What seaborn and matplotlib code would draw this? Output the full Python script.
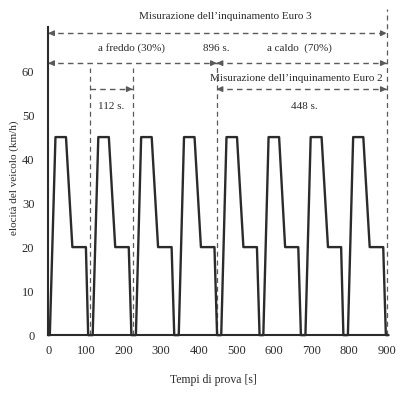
import matplotlib
matplotlib.use("Agg")
import matplotlib.pyplot as plt
import seaborn as sns
import pandas as pd

# ---- data ----
time_s = [0, 4, 19, 47, 64, 100, 106,
          118, 133, 161, 178, 214, 221,
          233, 247, 275, 292, 328, 335,
          347, 361, 389, 406, 442, 449,
          460, 474, 502, 519, 555, 562,
          572, 586, 614, 630, 665, 672,
          684, 698, 727, 744, 779, 785,
          797, 811, 838, 855, 891, 898, 905]
speed_kmh = [0, 0, 45, 45, 20, 20, 0,
             0, 45, 45, 20, 20, 0,
             0, 45, 45, 20, 20, 0,
             0, 45, 45, 20, 20, 0,
             0, 45, 45, 20, 20, 0,
             0, 45, 45, 20, 20, 0,
             0, 45, 45, 20, 20, 0,
             0, 45, 45, 20, 20, 0, 0]

x_ticks = [0, 100, 200, 300, 400, 500, 600, 700, 800, 900]
y_ticks = [0, 10, 20, 30, 40, 50, 60]

phase_marks = [112, 224, 448, 900]          # vertical dashed lines (s)
phase_tops = [60.7, 60.7, 62.0, 74.0]       # their upper ends (km/h scale)

labels = ["Misurazione dell\u2019inquinamento Euro 3", "a freddo (30%)", "896 s.",
          "a caldo  (70%)", "Misurazione dell\u2019inquinamento Euro 2", "112 s.", "448 s."]
label_x = [470, 220, 448, 669, 661, 167, 680]
label_y = [72.3, 65.2, 65.2, 65.2, 58.2, 52.0, 52.0]

x_title = "Tempi di prova [s]"
y_title = "elocit\u00e0 del veicolo (km/h)"

df = pd.DataFrame({"t": time_s, "v": speed_kmh})

# ---- styling ----
sns.set_theme(style="white")
plt.rcParams["font.family"] = ["Liberation Serif", "DejaVu Serif"]
ink = "#2b2b2b"
dash_col = "#5a5a5a"

fig = plt.figure(figsize=(4.04, 3.98), dpi=100)
ax = fig.add_axes([0.1196, 0.158, 0.842, 0.774])

sns.lineplot(data=df, x="t", y="v", ax=ax, color=ink, linewidth=1.7,
             estimator=None, sort=False, clip_on=False, zorder=3)

ax.set_xlim(0, 905)
ax.set_ylim(0, 70)
ax.set_xticks(x_ticks)
ax.set_yticks(y_ticks)
ax.tick_params(axis="both", labelsize=9, colors=ink, direction="out")
ax.tick_params(axis="y", length=7, width=1.3, pad=3)
ax.tick_params(axis="x", length=5, width=1.0, pad=2)
for s in ["top", "right"]:
    ax.spines[s].set_visible(False)
for s in ["left", "bottom"]:
    ax.spines[s].set_color(ink)
    ax.spines[s].set_linewidth(1.5)
ax.set_xlabel("")
ax.set_ylabel("")

fig.text(213 / 404, 1 - 380 / 398, x_title, ha="center", va="center",
         fontsize=8.5, color=ink)
fig.text(14 / 404, 1 - 178 / 398, y_title, ha="center", va="center",
         rotation=90, fontsize=8, color=ink)

# vertical dashed phase lines
for xm, top in zip(phase_marks, phase_tops):
    ax.plot([xm, xm], [0, top], ls=(0, (4, 3)), color=dash_col, lw=0.9,
            clip_on=False, zorder=2)

def dashed_arrow(x0, x1, y, left_head=True, right_head=True):
    ax.plot([x0, x1], [y, y], ls=(0, (4, 3)), color=dash_col, lw=1.0,
            clip_on=False, zorder=2)
    kw = dict(arrowstyle="-|>", color=dash_col, lw=1.0, mutation_scale=8,
              shrinkA=0, shrinkB=0)
    if right_head:
        ax.annotate("", xy=(x1, y), xytext=(x1 - 12, y), arrowprops=kw,
                    annotation_clip=False)
    if left_head:
        ax.annotate("", xy=(x0, y), xytext=(x0 + 12, y), arrowprops=kw,
                    annotation_clip=False)

dashed_arrow(0, 900, 68.6)
dashed_arrow(0, 448, 61.8)
dashed_arrow(448, 900, 61.8)
dashed_arrow(448, 900, 55.9)
dashed_arrow(112, 224, 55.9, left_head=False)

for txt, xx, yy in zip(labels, label_x, label_y):
    ax.text(xx, yy, txt, ha="center", va="center", fontsize=8, color=ink,
            clip_on=False)

fig.savefig("out.png", dpi=100, facecolor="white")
